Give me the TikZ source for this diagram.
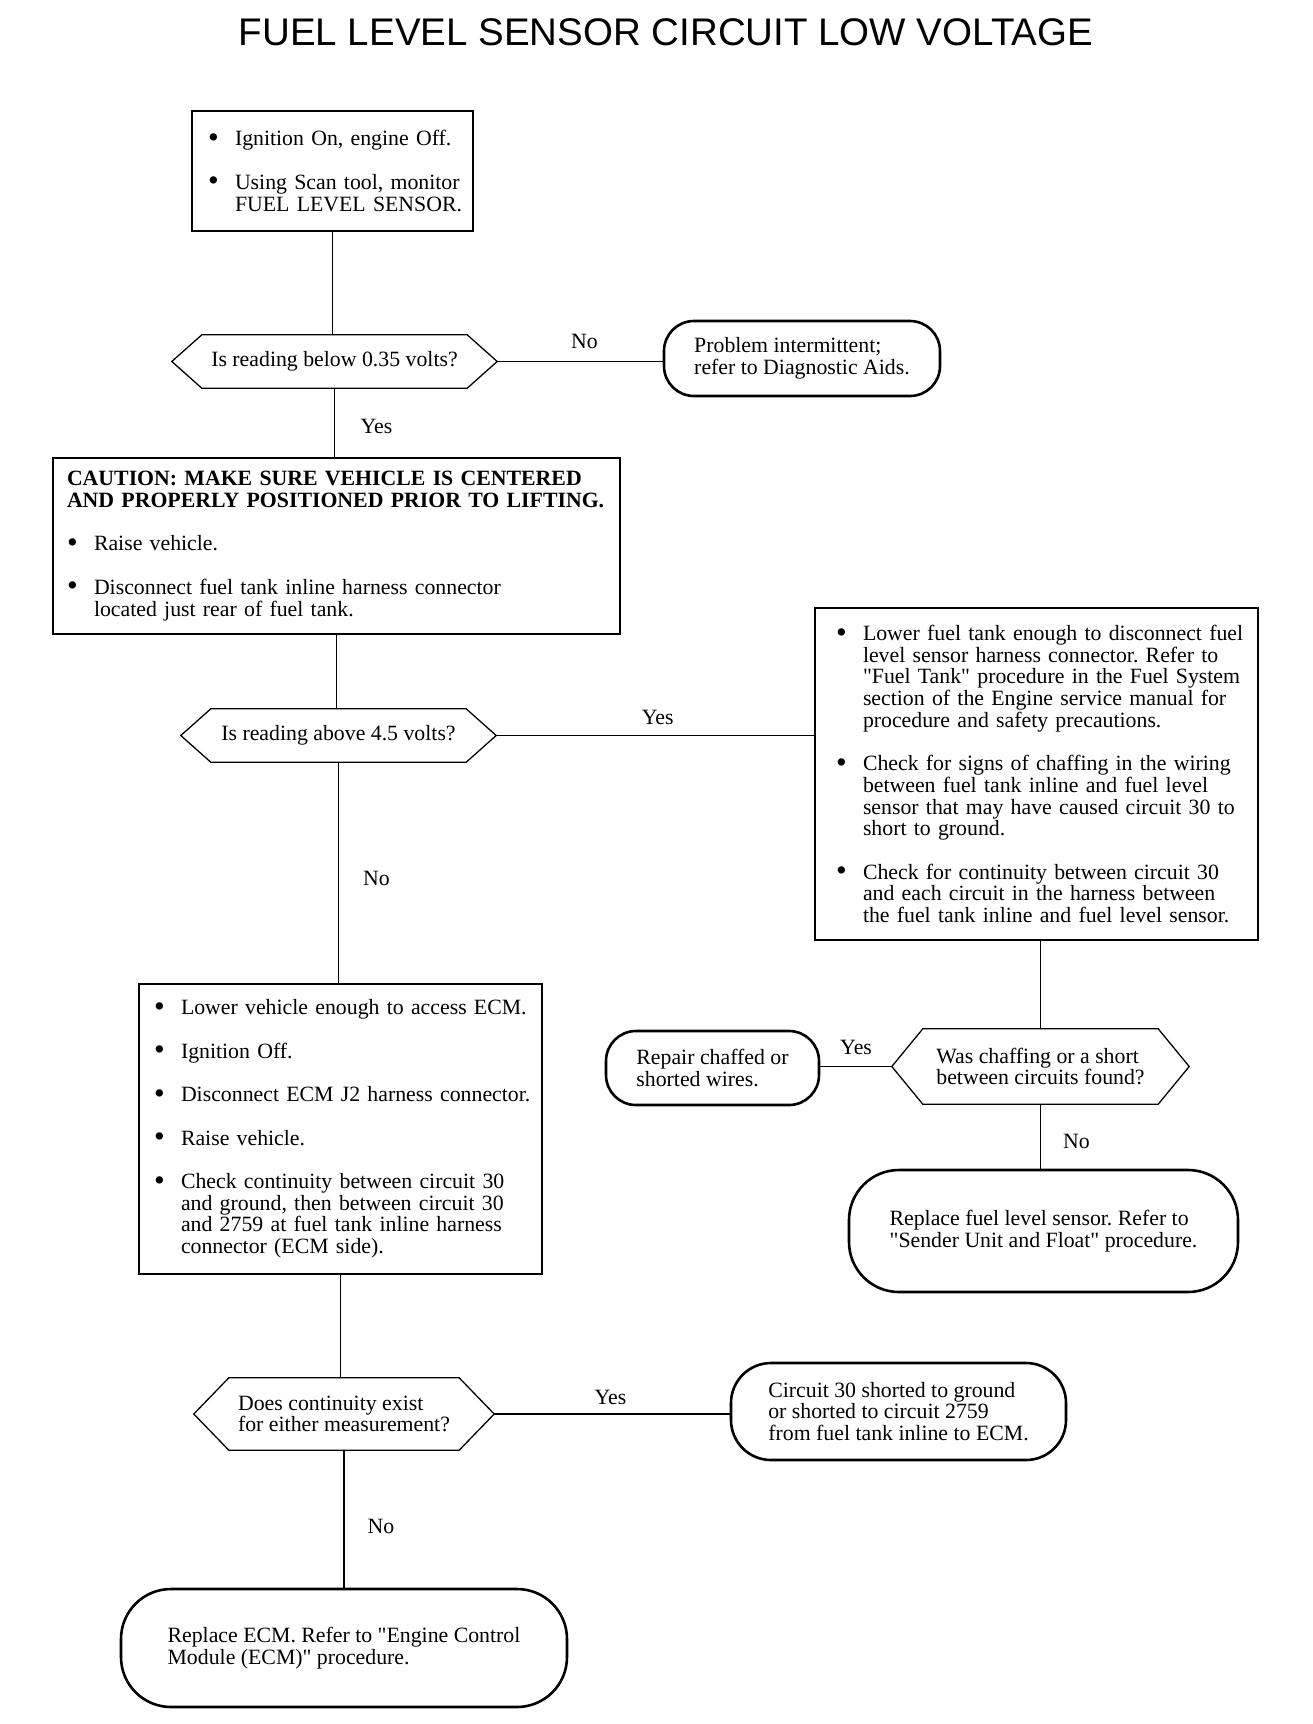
\documentclass[tikz,border=0pt]{standalone}
\usepackage{fontspec}
\setmainfont{Liberation Serif}
\newfontfamily\headfont{Liberation Sans}

\newcommand{\bul}[1]{\leavevmode\hbox to 27pt{\raisebox{-1.6pt}{\scalebox{1.4}{\textbullet}}\hfil}\mbox{#1}}
\newcommand{\ind}[1]{\leavevmode\hbox to 27pt{\hfil}\mbox{#1}}
\newcommand{\q}{\textquotedbl}

\tikzset{
  txt/.style={font=\fontsize{21.8}{21.7}\selectfont},
  box/.style={draw, line width=1.6pt, inner sep=0pt, align=left, txt},
  hexnode/.style={inner sep=0pt, align=left, txt},
  endbox/.style={draw, line width=2.6pt, rounded corners=#1, inner sep=0pt, align=left, txt},
  link/.style={line width=1.2pt},
  lbl/.style={txt, anchor=base, inner sep=0pt},
}

\begin{document}
\lineskiplimit=-30pt
\frenchspacing
\begin{tikzpicture}[x=1pt, y=-1pt]
  \fill[white] (0,0) rectangle (1312,1724);
  \useasboundingbox (0,0) rectangle (1312,1724);

  \node[anchor=base, font=\headfont\fontsize{38.5}{40}\selectfont] (title) at (666,45) {FUEL LEVEL SENSOR CIRCUIT LOW VOLTAGE};

  % left column
  \node[box, minimum width=281pt, minimum height=120pt, text width=249pt] (start) at (332.5,171)
    {\bul{Ignition On, engine Off.}\\[21.7pt]\bul{Using Scan tool, monitor}\\\ind{FUEL LEVEL SENSOR.}};
  \node[hexnode, minimum width=325pt, minimum height=53pt] (d1) at (334.5,361.5) {Is reading below 0.35 volts?};
  \node[box, minimum width=567pt, minimum height=176pt, text width=539pt] (caution) at (336.5,546)
    {\textbf{CAUTION: MAKE SURE VEHICLE IS CENTERED}\\\textbf{AND PROPERLY POSITIONED PRIOR TO LIFTING.}\\[21.7pt]\bul{Raise vehicle.}\\[21.7pt]\bul{Disconnect fuel tank inline harness connector}\\\ind{located just rear of fuel tank.}};
  \node[hexnode, minimum width=315pt, minimum height=53pt] (d2) at (338.5,735.5) {Is reading above 4.5 volts?};
  \node[box, minimum width=403pt, minimum height=290pt, text width=373pt] (ecm) at (340.5,1129)
    {\bul{Lower vehicle enough to access ECM.}\\[21.7pt]\bul{Ignition Off.}\\[21.7pt]\bul{Disconnect ECM J2 harness connector.}\\[21.7pt]\bul{Raise vehicle.}\\[21.7pt]\bul{Check continuity between circuit 30}\\\ind{and ground, then between circuit 30}\\\ind{and 2759 at fuel tank inline harness}\\\ind{connector (ECM side).}};
  \node[hexnode, minimum width=300pt, minimum height=72pt] (d4) at (344,1414) {Does continuity exist\\for either measurement?};
  \node[endbox=50pt, minimum width=446pt, minimum height=118pt] (ecmrep) at (344,1648)
    {Replace ECM. Refer to \q Engine Control\\Module (ECM)\q\ procedure.};

  % right column
  \node[endbox=30pt, minimum width=276pt, minimum height=75pt] (prob) at (802,358.5)
    {Problem intermittent;\\refer to Diagnostic Aids.};
  \node[box, minimum width=443pt, minimum height=332pt, text width=401pt] (fix) at (1036.5,774)
    {\bul{Lower fuel tank enough to disconnect fuel}\\\ind{level sensor harness connector. Refer to}\\\ind{\q Fuel Tank\q\ procedure in the Fuel System}\\\ind{section of the Engine service manual for}\\\ind{procedure and safety precautions.}\\[21.7pt]\bul{Check for signs of chaffing in the wiring}\\\ind{between fuel tank inline and fuel level}\\\ind{sensor that may have caused circuit 30 to}\\\ind{short to ground.}\\[21.7pt]\bul{Check for continuity between circuit 30}\\\ind{and each circuit in the harness between}\\\ind{the fuel tank inline and fuel level sensor.}};
  \node[hexnode, minimum width=297pt, minimum height=75pt] (d3) at (1040.5,1066.5) {Was chaffing or a short\\between circuits found?};
  \node[endbox=30pt, minimum width=213pt, minimum height=74pt] (repair) at (712.5,1068)
    {Repair chaffed or\\shorted wires.};
  \node[endbox=50pt, minimum width=389pt, minimum height=122pt] (sensor) at (1043.5,1231)
    {Replace fuel level sensor. Refer to\\\q Sender Unit and Float\q\ procedure.};
  \node[endbox=40pt, minimum width=335pt, minimum height=97pt] (circuit) at (898.5,1411.5)
    {Circuit 30 shorted to ground\\or shorted to circuit 2759\\from fuel tank inline to ECM.};

  % decision outlines
  \foreach \n/\c in {d1/30, d2/30, d3/31, d4/35}
    \draw[line width=1.3pt] (\n.west) -- ([xshift=\c]\n.north west) -- ([xshift=-\c]\n.north east)
      -- (\n.east) -- ([xshift=-\c]\n.south east) -- ([xshift=\c]\n.south west) -- cycle;

  % connectors
  \draw[link] (start.south) -- (start.south |- d1.north);
  \draw[link] (d1.east) -- (d1.east -| prob.west) node[lbl, midway, xshift=4.5pt, yshift=13pt] {No};
  \draw[link] (d1.south) -- (d1.south |- caution.north) node[lbl, midway, xshift=42pt, yshift=-11pt] {Yes};
  \draw[link] (caution.south) -- (caution.south |- d2.north);
  \draw[link] (d2.east) -- (d2.east -| fix.west) node[lbl, midway, xshift=2.5pt, yshift=11pt] {Yes};
  \draw[link] (d2.south) -- (d2.south |- ecm.north) node[lbl, midway, xshift=38pt, yshift=-13pt] {No};
  \draw[link] (d3.north |- fix.south) -- (d3.north);
  \draw[link] (d3.west) -- (d3.west -| repair.east) node[lbl, midway, yshift=12pt] {Yes};
  \draw[link] (d3.south) -- (d3.south |- sensor.north) node[lbl, midway, xshift=36pt, yshift=-12pt] {No};
  \draw[link] (ecm.south) -- (ecm.south |- d4.north);
  \draw[link] (d4.east) -- (d4.east -| circuit.west) node[lbl, midway, xshift=-1.5pt, yshift=10pt] {Yes};
  \draw[link] (d4.south) -- (d4.south |- ecmrep.north) node[lbl, midway, xshift=37pt, yshift=-14.5pt] {No};
\end{tikzpicture}
\end{document}
